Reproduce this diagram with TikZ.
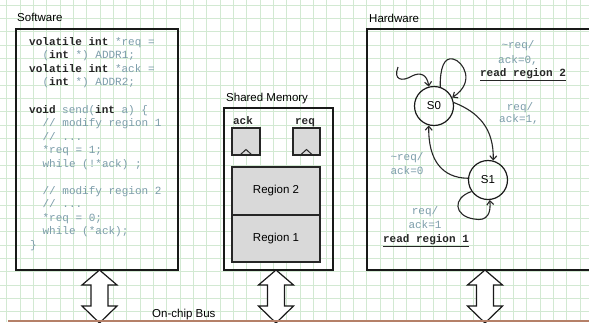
\documentclass[tikz,border=0pt]{standalone}
\usepackage{fontspec}
\setmainfont{Liberation Sans}
\setmonofont{Liberation Mono}
\usetikzlibrary{arrows.meta}
\definecolor{gridc}{HTML}{D2E9D2}
\definecolor{codec}{HTML}{7C9DAA}
\definecolor{regfill}{HTML}{D9D9D9}
\definecolor{busc}{HTML}{B58068}
\newcommand\kw[1]{{\bfseries\color{black!85}#1}}
\newcommand\dblarrow[1]{\draw[barr] (#1) -- ++(17.5,15) -- ++(-9,0) -- ++(0,21) -- ++(9,0) -- ++(-17.5,17) -- ++(-17.5,-17) -- ++(9,0) -- ++(0,-21) -- ++(-9,0) -- cycle;}
\begin{document}
\begin{tikzpicture}[x=1pt,y=-1pt,
  box/.style={draw=black!90,line width=1.5pt,inner sep=0pt,outer sep=0pt,anchor=north west},
  membox/.style={draw=black!85,line width=1.1pt,fill=regfill,inner sep=0pt,outer sep=0pt,anchor=north west},
  lbl/.style={font=\fontsize{11.5}{13}\selectfont,anchor=base west,inner sep=0pt},
  code/.style={font=\ttfamily\fontsize{11}{13}\selectfont,text=codec,anchor=base west,inner sep=0pt},
  mlab/.style={font=\ttfamily\fontsize{11}{13}\selectfont,text=codec,anchor=base,inner sep=0pt},
  rlab/.style={font=\ttfamily\bfseries\fontsize{11}{13}\selectfont,text=black!85,anchor=base,inner sep=0pt},
  state/.style={circle,draw=black!90,line width=1.2pt,minimum size=39pt,inner sep=0pt,font=\fontsize{11.5}{13}\selectfont},
  tr/.style={line width=1.1pt,draw=black!85,-{Straight Barb[length=4pt,width=7pt]}},
  barr/.style={draw=black!90,line width=1.2pt,fill=white,line join=miter}]
\useasboundingbox (0,0) rectangle (589,322);
\clip (0,0) rectangle (589,322);
\fill[white] (0,0) rectangle (589,322);
% grid
\foreach \i in {0,...,44} \draw[gridc,line width=0.6pt] ({6.7+13.33*\i},0) -- ++(0,322);
\foreach \j in {0,...,24} \draw[gridc,line width=0.6pt] (0,{5+13.33*\j}) -- ++(589,0);

% Software
\node[lbl] (swl) at (17,21.5) {Software};
\node[box,minimum width=162pt,minimum height=241pt] (sw) at (16,29) {};
\node[code] (c1) at (29,45.2) {\kw{volatile int} *req =};
\node[code] (c2) at (42.4,58.8) {(\kw{int} *) ADDR1;};
\node[code] (c3) at (29,72.3) {\kw{volatile int} *ack =};
\node[code] (c4) at (42.4,85.9) {(\kw{int} *) ADDR2;};
\node[code] (c6) at (29,113.0) {\kw{void} send(\kw{int} a) \{};
\node[code] (c7) at (42.4,126.5) {// modify region 1};
\node[code] (c8) at (42.4,140.1) {// ...};
\node[code] (c9) at (42.4,153.6) {*req = 1;};
\node[code] (c10) at (42.4,167.2) {while (!*ack) ;};
\node[code] (c12) at (42.4,194.3) {// modify region 2};
\node[code] (c13) at (42.4,207.8) {// ...};
\node[code] (c14) at (42.4,221.4) {*req = 0;};
\node[code] (c15) at (42.4,234.9) {while (*ack);};
\node[code] (c16) at (30,248.5) {\}};

% Shared memory
\node[lbl] (sml) at (226,101) {Shared Memory};
\node[box,minimum width=109pt,minimum height=162pt] (sm) at (224,108) {};
\node[rlab] (ackl) at (243,124) {ack};
\node[rlab] (reql) at (305,124) {req};
\node[membox,minimum width=28pt,minimum height=27pt] (ackb) at (232,128) {};
\node[membox,minimum width=27pt,minimum height=27pt] (reqb) at (293,128) {};
\draw[line width=1pt,black!85] (ackb.south) ++(-6,0) -- ++(6,-5.5) -- ++(6,5.5);
\draw[line width=1pt,black!85] (reqb.south) ++(-6,0) -- ++(6,-5.5) -- ++(6,5.5);
\node[membox,minimum width=88pt,minimum height=48pt,font=\fontsize{11.5}{13}\selectfont] (r2) at (232,167) {Region 2};
\node[membox,minimum width=88pt,minimum height=47pt,font=\fontsize{11.5}{13}\selectfont] (r1) at (232,215) {Region 1};

% Hardware
\node[lbl] (hwl) at (369,22) {Hardware};
\node[box,minimum width=236pt,minimum height=241pt] (hw) at (367,29) {};
\node[state] (s0) at (434,106) {S0};
\node[state] (s1) at (488,180) {S1};
\coordinate (init) at (398,67);
\draw[tr] (init) .. controls (393,80) and (402,82) .. (412,76) .. controls (420,72) and (427,74) .. (s0.105);
\draw[tr] (s0.72) .. controls (440,68) and (444,57) .. (453,59) .. controls (463,61) and (476,82) .. (s0.25);
\draw[tr] (s0.10) .. controls (478,112) and (494,128) .. (s1.75);
\draw[tr] (s1.175) .. controls (442,178) and (428,160) .. (s0.255);
\draw[tr] (s1.215) .. controls (452,198) and (454,216) .. (474,219) .. controls (488,222) and (491,212) .. (s1.275);
\node[mlab] (t1a) at (518,48.5) {\textasciitilde req/};
\node[mlab] (t1b) at (518,63.5) {ack=0,};
\node[rlab] (t1c) at (523,76.5) {\underline{read region 2}};
\node[mlab] (t2a) at (520,110.5) {req/};
\node[mlab] (t2b) at (519,122.5) {ack=1,};
\node[mlab] (t3a) at (407,160.5) {\textasciitilde req/};
\node[mlab] (t3b) at (407,174.5) {ack=0};
\node[mlab] (t4a) at (425,214.5) {req/};
\node[mlab] (t4b) at (425,228.5) {ack=1};
\node[rlab] (t4c) at (426,242.5) {\underline{read region 1}};

% bus
\path (sw.south) ++(2.5,0) coordinate (swt);
\path (sm.south) ++(-2.5,0) coordinate (smt);
\path (hw.south) coordinate (hwt);
\dblarrow{swt}
\dblarrow{smt}
\dblarrow{hwt}
\coordinate (busL) at (8,321);
\coordinate (busR) at (589,321);
\draw[busc,line width=1.5pt] (busL) -- (busR);
\node[lbl] (busl) at (152,317) {On-chip Bus};
\end{tikzpicture}
\end{document}
